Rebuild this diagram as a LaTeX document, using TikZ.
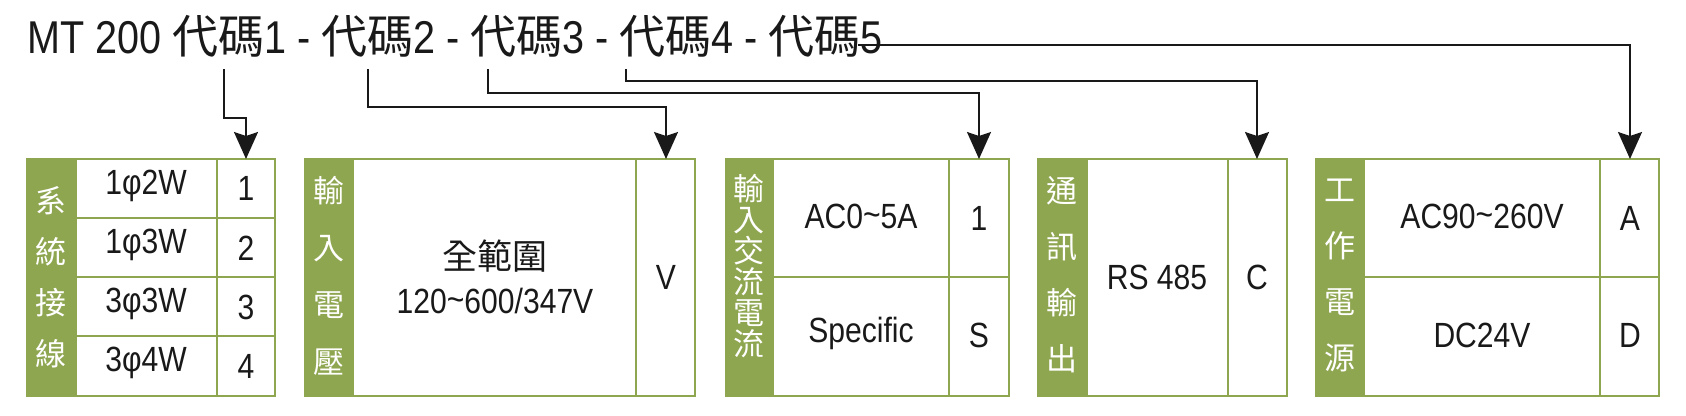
\documentclass[tikz,border=0pt]{standalone}
\usepackage{fontspec}
\setmainfont{Liberation Sans}[FakeStretch=0.86]
\newfontfamily\cjk{Noto Sans CJK TC}
\usetikzlibrary{arrows.meta}
\definecolor{olive}{HTML}{8FA650}
\tikzset{
  box/.style={draw=olive, line width=2.4pt, fill=white},
  strip/.style={fill=olive, draw=olive, line width=2.4pt},
  cell/.style={font=\fontsize{35}{40}\selectfont, text=black!90},
  side/.style={font=\cjk\fontsize{31}{36}\selectfont, text=white, align=center},
  conn/.style={draw=black!90, line width=1.8pt, -{Stealth[length=27pt,width=24pt,inset=4pt]}},
}
\begin{document}
\begin{tikzpicture}[x=1pt,y=-1pt]
\useasboundingbox (0,0) rectangle (1686,415);
% title
\node[anchor=base west, inner sep=0, font=\fontsize{46}{50}\selectfont, text=black!90] (title) at (27,53)
 {MT 200 {\cjk 代碼}1 - {\cjk 代碼}2 - {\cjk 代碼}3 - {\cjk 代碼}4 - {\cjk 代碼}5};
\coordinate (s1) at (224,69); \coordinate (s2) at (368,69); \coordinate (s3) at (488,69);
\coordinate (s4) at (626,69); \coordinate (s5) at (858,45);
% box1
\draw[box] (27,159) rectangle (275,396);
\draw[strip] (27,159) rectangle (76,396);
\draw[draw=olive,line width=2.4pt] (217,159) -- (217,396);
\foreach \y in {218,277,336} \draw[draw=olive,line width=2.4pt] (76,\y) -- (275,\y);
\node[side, font=\cjk\fontsize{31}{51}\selectfont] (l1) at (51,277) {系\\統\\接\\線};
\foreach \t/\c [count=\i] in {1φ2W/1,1φ3W/2,3φ3W/3,3φ4W/4}{
  \node[cell] (a\i) at (146,{159+59.25*(\i-0.5)-3}) {\t};
  \node[cell] (b\i) at (246,{159+59.25*(\i-0.5)}) {\c};}
\coordinate (t1) at (246,159);
% box2
\draw[box] (305,159) rectangle (695,396);
\draw[strip] (305,159) rectangle (353,396);
\draw[draw=olive,line width=2.4pt] (636,159) -- (636,396);
\node[side, font=\cjk\fontsize{31}{57}\selectfont] (l2) at (329,276) {輸\\入\\電\\壓};
\node[cell, align=center, font=\fontsize{35}{44}\selectfont] (c2) at (495,277) {{\cjk 全範圍}\\120\raisebox{2pt}{\char`~}600/347V};
\node[cell] (v) at (666,277) {V};
\coordinate (t2) at (666,159);
% box3
\draw[box] (726,159) rectangle (1009,396);
\draw[strip] (726,159) rectangle (773,396);
\draw[draw=olive,line width=2.4pt] (949,159) -- (949,396) (773,277) -- (1009,277);
\node[side, font=\cjk\fontsize{31}{31}\selectfont] (l3) at (749,266) {輸\\入\\交\\流\\電\\流};
\node[cell] (a3) at (861,216) {AC0\raisebox{2pt}{\char`~}5A};
\node[cell] (b3) at (861,333) {Specific};
\node[cell] (c3) at (979,218) {1};
\node[cell] (d3) at (979,335) {S};
\coordinate (t3) at (979,159);
% box4
\draw[box] (1038,159) rectangle (1287,396);
\draw[strip] (1038,159) rectangle (1087,396);
\draw[draw=olive,line width=2.4pt] (1228,159) -- (1228,396);
\node[side, font=\cjk\fontsize{31}{56}\selectfont] (l4) at (1062,275) {通\\訊\\輸\\出};
\node[cell] (a4) at (1157,277) {RS 485};
\node[cell] (c4) at (1257,277) {C};
\coordinate (t4) at (1257,159);
% box5
\draw[box] (1316,159) rectangle (1659,396);
\draw[strip] (1316,159) rectangle (1364,396);
\draw[draw=olive,line width=2.4pt] (1600,159) -- (1600,396) (1364,277) -- (1659,277);
\node[side, font=\cjk\fontsize{31}{56}\selectfont] (l5) at (1340,275) {工\\作\\電\\源};
\node[cell] (a5) at (1482,216) {AC90\raisebox{2pt}{\char`~}260V};
\node[cell] (b5) at (1482,335) {DC24V};
\node[cell] (c5) at (1630,218) {A};
\node[cell] (d5) at (1630,335) {D};
\coordinate (t5) at (1630,159);
% connectors
\draw[conn] (s1) -- (224,118) -- (246,118) -- (t1);
\draw[conn] (s2) -- (368,107) -- (666,107) -- (t2);
\draw[conn] (s3) -- (488,93) -- (979,93) -- (t3);
\draw[conn] (s4) -- (626,81) -- (1257,81) -- (t4);
\draw[conn] (s5) -- (1630,45) -- (t5);
\end{tikzpicture}
\end{document}
